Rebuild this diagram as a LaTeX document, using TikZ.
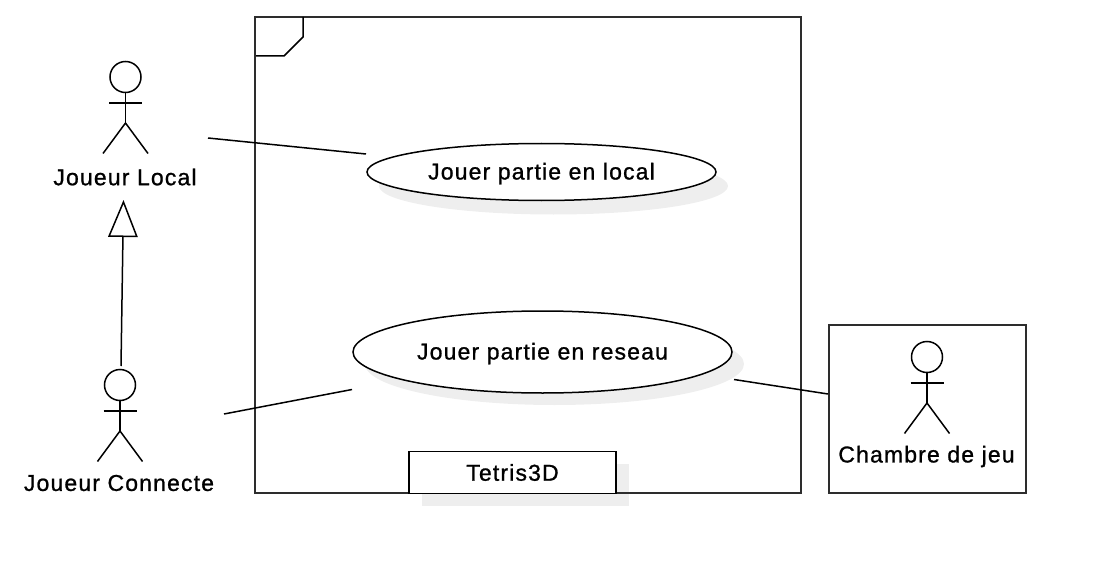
\documentclass[tikz,border=0pt]{standalone}
\usepackage{fontspec}
\setmainfont[LetterSpace=5,FakeBold=1]{Liberation Sans}
\usetikzlibrary{arrows.meta,shapes.geometric}
\definecolor{shadowgray}{RGB}{238,238,238}
\definecolor{framegray}{RGB}{45,45,45}
\tikzset{
  labelfont/.style={font=\fontsize{23}{26}\selectfont},
  usecase/.style={draw,fill=white,ellipse,line width=1.5,inner sep=0pt,labelfont,text height=18pt,text depth=3pt},
  usecaseshadow/.style={fill=shadowgray,ellipse,inner sep=0pt},
  actorlabel/.style={labelfont,inner sep=0.75pt},
  framebox/.style={draw=framegray,line width=2},
  assoc/.style={line width=1.5},
  actorman/.pic={
    \draw [line width=1.5] (0,0) circle [radius=15.5];
    \draw [line width=1.5] (0,15.5) -- (0,46) ;
    \draw [line width=1.5] (-16.5,26) -- (16.5,26) ;
    \draw [line width=1.5] (-22.5,76.5) -- (0,46) -- (22.5,76.5) ;
  }
}
\begin{document}
\begin{tikzpicture}[x=1pt,y=1pt,yscale=-1,xscale=1]

\useasboundingbox (0,0) rectangle (1095,575);

%Shadows
\node [usecaseshadow,minimum width=349,minimum height=57] (localshadow) at (553.5,186) {};
\node [usecaseshadow,minimum width=379,minimum height=82] (reseaushadow) at (554.5,364) {};
\fill [shadowgray] (421.5,464) rectangle (628.5,505.5);

%System frame
\draw [framebox] (255,17) rectangle (801,493);
\draw [line width=1.5] (256,56) -- (284,56) -- (303,37) -- (303,17) ;
\node [draw,fill=white,line width=1.5,minimum width=207,minimum height=42,inner sep=0pt,labelfont] (tetris) at (512.5,472.5) {Tetris3D};

%Use cases
\node [usecase,minimum width=349,minimum height=57] (local) at (541.5,172) {Jouer partie en local};
\node [usecase,minimum width=379,minimum height=82] (reseau) at (542.5,352) {Jouer partie en reseau};

%Chambre box
\draw [framebox] (829,325) rectangle (1026,493);

%Actors
\pic [yscale=-1] at (125.5,77) {actorman};
\pic [yscale=-1] at (120,385) {actorman};
\pic [yscale=-1] at (927,357) {actorman};

% Text Node
\node [actorlabel] (joueurlocal) at (125,177) {Joueur Local};
% Text Node
\node [actorlabel] (joueurconnecte) at (119,483) {Joueur Connecte};
% Text Node
\node [actorlabel] (chambre) at (926.5,456.5) {Chambre de jeu};

%Connector ends
\coordinate (a1) at (208,138);
\coordinate (a2) at (366,154);
\coordinate (b1) at (224,414);
\coordinate (b2) at (352,389.5);
\coordinate (c1) at (734,379.5);
\coordinate (c2) at (828,394);
\coordinate (g1) at (121,366);
\coordinate (g2) at (123.5,200);

%Straight Lines
\draw [assoc] (a1) -- (a2) ;
\draw [assoc] (b1) -- (b2) ;
\draw [assoc] (c1) -- (c2) ;
\draw [assoc,-{Triangle[open,length=37pt,width=29.5pt,line width=1.5pt]}] (g1) -- (g2) ;

\end{tikzpicture}
\end{document}
